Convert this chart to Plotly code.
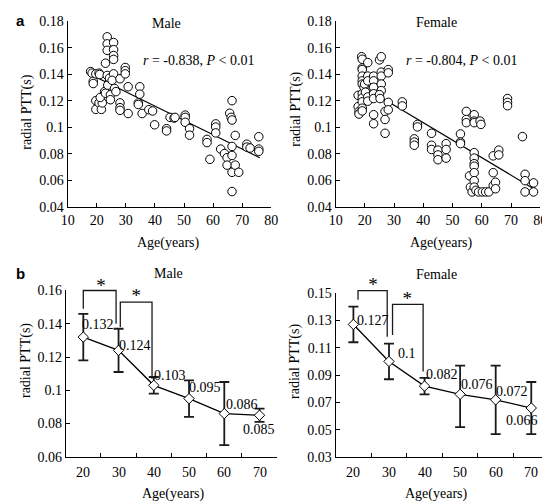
import plotly.graph_objects as go

# ---------------- data ----------------
male_age = [17.9, 18.4, 18.8, 18.8, 19.7, 19.7, 19.7, 20.8, 21.0, 20.8, 21.6, 21.9, 21.2,
            22.7, 23.0, 23.0, 23.6, 23.6, 23.6, 23.6, 24.2, 23.8, 24.7, 24.7, 24.4,
            25.8, 25.8, 25.8, 25.8, 25.8, 25.3, 26.1, 26.6, 28.0, 28.0, 28.0, 28.0,
            29.8, 29.8, 29.8, 30.8, 30.8, 34.8, 34.8, 34.3, 34.3, 35.6, 37.9, 39.2, 39.9,
            44.0, 44.0, 45.2, 46.6, 46.9, 50.4, 50.4, 50.4, 51.9, 51.9, 57.9, 57.9, 58.9,
            60.9, 60.9, 60.9, 62.6, 63.9, 64.8, 64.8, 65.7, 66.2, 66.5, 66.5, 66.5, 66.5,
            66.5, 66.5, 67.6, 67.6, 68.8, 71.6, 71.6, 72.7, 75.7, 75.7, 75.7]
male_ptt = [0.1421, 0.1409, 0.1348, 0.1331, 0.1404, 0.1202, 0.1136, 0.1409, 0.1399, 0.1185,
            0.1136, 0.1185, 0.1226, 0.1270, 0.1484, 0.1258, 0.1683, 0.1630, 0.1581, 0.1392,
            0.1336, 0.1319, 0.1246, 0.1209, 0.1372, 0.1640, 0.1586, 0.1542, 0.1513, 0.1404,
            0.1355, 0.1294, 0.1270, 0.1367, 0.1185, 0.1149, 0.1129, 0.1452, 0.1428, 0.1404,
            0.1307, 0.1105, 0.1307, 0.1251, 0.1185, 0.1173, 0.1105, 0.1134, 0.1124, 0.1020,
            0.0991, 0.0974, 0.1076, 0.1071, 0.1076, 0.1093, 0.1076, 0.1039, 0.0991, 0.0942,
            0.0910, 0.0886, 0.0760, 0.1027, 0.1003, 0.0959, 0.0837, 0.0803, 0.0772, 0.0716,
            0.1107, 0.1076, 0.1056, 0.1202, 0.0857, 0.0789, 0.0662, 0.0517, 0.0940, 0.0716,
            0.0662, 0.0874, 0.0852, 0.0845, 0.0930, 0.0837, 0.0820]
male_fit_age = [18.8, 76.0]
male_fit_ptt = [0.1390, 0.0772]

female_age = [17.7, 17.7, 18.0, 18.0, 18.9, 19.1, 19.1, 19.1, 19.1, 19.1, 19.1, 19.1, 19.1,
              19.1, 19.1, 19.1, 19.7, 19.9, 20.2, 21.0, 21.0, 21.0, 21.0, 21.0,
              23.0, 23.0, 23.0, 23.0, 23.0, 23.0, 23.0, 25.0, 25.6, 25.6, 25.6, 25.6, 25.6,
              25.0, 25.2, 26.9, 26.9, 26.9, 28.0, 28.0, 28.0, 28.0, 32.8, 32.8,
              36.9, 36.9, 36.9, 38.0, 38.0, 42.8, 42.8, 42.8, 45.0, 45.0, 45.0, 47.8, 47.8, 47.8,
              52.7, 52.7, 52.7, 54.7, 54.7, 54.7, 55.8, 56.1, 56.7, 57.4, 57.4, 57.4, 57.4,
              57.4, 57.4, 57.4, 57.4, 57.4, 57.4, 58.0, 59.4, 59.7, 58.9, 60.2, 61.3, 62.4,
              63.9, 63.9, 63.9, 64.7, 64.7, 65.8, 65.8, 68.8, 68.8, 68.8, 73.9, 74.8, 74.8,
              74.8, 77.7, 77.7]
female_ptt = [0.1242, 0.1157, 0.1121, 0.1101, 0.1533, 0.1514, 0.1448, 0.1436, 0.1387, 0.1351,
              0.1327, 0.1254, 0.1222, 0.1193, 0.1145, 0.1125, 0.1303, 0.1327, 0.1266, 0.1489,
              0.1387, 0.1351, 0.1230, 0.1198, 0.1387, 0.1351, 0.1303, 0.1254, 0.1218, 0.1096,
              0.1028, 0.1509, 0.1533, 0.1417, 0.1387, 0.1327, 0.1278, 0.1247, 0.1218, 0.1121,
              0.1060, 0.0956, 0.1436, 0.1412, 0.1189, 0.1133, 0.1193, 0.1162, 0.0914, 0.0890,
              0.0866, 0.1023, 0.1004, 0.0956, 0.0866, 0.0834, 0.0829, 0.0793, 0.0757, 0.0878,
              0.0834, 0.0769, 0.0951, 0.0890, 0.0878, 0.1121, 0.1060, 0.1036, 0.0635, 0.0550,
              0.0514, 0.1096, 0.1048, 0.1036, 0.0810, 0.0769, 0.0727, 0.0708, 0.0659, 0.0599,
              0.0550, 0.0526, 0.1048, 0.1023, 0.0514, 0.0514, 0.0514, 0.0514, 0.0786, 0.0659,
              0.0562, 0.0587, 0.0538, 0.0829, 0.0793, 0.1218, 0.1189, 0.1164, 0.0931, 0.0647,
              0.0599, 0.0514, 0.0582, 0.0514]
female_fit_age = [18.4, 78.0]
female_fit_ptt = [0.1320, 0.0535]

groups = [20, 30, 40, 50, 60, 70]
male_mean = [0.132, 0.124, 0.103, 0.095, 0.086, 0.085]
male_upper = [0.146, 0.137, 0.108, 0.106, 0.105, 0.089]
male_lower = [0.118, 0.111, 0.098, 0.084, 0.067, 0.081]
male_labels = ["0.132", "0.124", "0.103", "0.095", "0.086", "0.085"]
male_label_x = [24.1, 34.6, 44.5, 54.4, 65.1, 69.8]
male_label_y = [0.1397, 0.1272, 0.1088, 0.1015, 0.0915, 0.0764]

female_mean = [0.127, 0.100, 0.082, 0.076, 0.072, 0.066]
female_upper = [0.140, 0.113, 0.088, 0.097, 0.097, 0.085]
female_lower = [0.114, 0.087, 0.076, 0.052, 0.047, 0.047]
female_labels = ["0.127", "0.1", "0.082", "0.076", "0.072", "0.066"]
female_label_x = [25.5, 35.1, 44.9, 54.7, 64.5, 67.4]
female_label_y = [0.1299, 0.1056, 0.0905, 0.0831, 0.0784, 0.0572]

# significance brackets and stars
male_br1_x = [20.0, 20.0, 29.3, 29.3]
male_br1_y = [0.149, 0.160, 0.160, 0.140]
male_br2_x = [30.5, 30.5, 39.5, 39.5]
male_br2_y = [0.138, 0.153, 0.153, 0.107]
male_star_x = [25.0, 35.0]
male_star_y = [0.1622, 0.1557]
female_br1_x = [21.3, 21.3, 29.5, 29.5]
female_br1_y = [0.145, 0.1517, 0.1517, 0.118]
female_br2_x = [31.0, 31.0, 39.6, 39.6]
female_br2_y = [0.1193, 0.1417, 0.1417, 0.0926]
female_star_x = [25.5, 35.1]
female_star_y = [0.1545, 0.1444]

scatter_xticks = [10, 20, 30, 40, 50, 60, 70, 80]
scatter_yticks = [0.04, 0.06, 0.08, 0.1, 0.12, 0.14, 0.16, 0.18]
scatter_yticklabels = ["0.04", "0.06", "0.08", "0.1", "0.12", "0.14", "0.16", "0.18"]
male_b_yticks = [0.06, 0.08, 0.1, 0.12, 0.14, 0.16]
male_b_yticklabels = ["0.06", "0.08", "0.1", "0.12", "0.14", "0.16"]
female_b_yticks = [0.03, 0.05, 0.07, 0.09, 0.11, 0.13, 0.15]
female_b_yticklabels = ["0.03", "0.05", "0.07", "0.09", "0.11", "0.13", "0.15"]
b_xtick_marks = [25, 35, 45, 55, 65, 75]

# ---------------- figure ----------------
W, H = 550, 501
SERIF = "Liberation Serif"
INK = "#1a1a1a"

def px_x(p):
    return p / W

def px_y(p):
    return 1 - p / H

# bottom panels: pixel geometry
MB_BOT, MB_TOP, MB_RANGE = 455.5, 284.0, [0.06, 0.16]
FB_BOT, FB_TOP, FB_RANGE = 456.0, 286.5, [0.03, 0.15]
OVER_TOP = 262.0  # overlay panels extend upward so brackets/stars aren't clipped

def extended_range(bot, top, rng, new_top):
    per_px = (rng[1] - rng[0]) / (bot - top)
    return [rng[0], rng[1] + (top - new_top) * per_px]

fig = go.Figure()

circ = dict(symbol="circle", size=8.5, color="white", line=dict(color="black", width=1))

fig.add_trace(go.Scatter(x=male_fit_age, y=male_fit_ptt, mode="lines",
                         line=dict(color="black", width=1.2), xaxis="x", yaxis="y"))
fig.add_trace(go.Scatter(x=male_age, y=male_ptt, mode="markers", marker=circ,
                         xaxis="x", yaxis="y"))
fig.add_trace(go.Scatter(x=female_fit_age, y=female_fit_ptt, mode="lines",
                         line=dict(color="black", width=1.2), xaxis="x2", yaxis="y2"))
fig.add_trace(go.Scatter(x=female_age, y=female_ptt, mode="markers", marker=circ,
                         xaxis="x2", yaxis="y2"))

def err_trace(mean, upper, lower, xa, ya):
    return go.Scatter(
        x=groups, y=mean, mode="lines+markers", xaxis=xa, yaxis=ya, cliponaxis=False,
        line=dict(color="black", width=1.3),
        marker=dict(symbol="diamond", size=8, color="white", line=dict(color="black", width=1)),
        error_y=dict(type="data", symmetric=False,
                     array=[u - m for u, m in zip(upper, mean)],
                     arrayminus=[m - l for m, l in zip(mean, lower)],
                     color=INK, thickness=1.8, width=5))

fig.add_trace(err_trace(male_mean, male_upper, male_lower, "x3", "y3"))
fig.add_trace(err_trace(female_mean, female_upper, female_lower, "x4", "y4"))

# brackets + stars on invisible overlay subplots (x5/y5 male, x6/y6 female)
for bx, by in [(male_br1_x, male_br1_y), (male_br2_x, male_br2_y)]:
    fig.add_trace(go.Scatter(x=bx, y=by, mode="lines", line=dict(color=INK, width=1.3),
                             xaxis="x5", yaxis="y5"))
for bx, by in [(female_br1_x, female_br1_y), (female_br2_x, female_br2_y)]:
    fig.add_trace(go.Scatter(x=bx, y=by, mode="lines", line=dict(color=INK, width=1.3),
                             xaxis="x6", yaxis="y6"))
fig.add_trace(go.Scatter(x=male_star_x, y=male_star_y, mode="text", text=["*"] * 2,
                         textposition="middle center", cliponaxis=False,
                         textfont=dict(family=SERIF, size=19, color="black"),
                         xaxis="x5", yaxis="y5"))
fig.add_trace(go.Scatter(x=female_star_x, y=female_star_y, mode="text", text=["*"] * 2,
                         textposition="middle center", cliponaxis=False,
                         textfont=dict(family=SERIF, size=19, color="black"),
                         xaxis="x6", yaxis="y6"))

tickfont = dict(family=SERIF, size=14, color="black")

def ax(domain, rng, tickvals, ticktext=None, showlabels=True):
    d = dict(domain=domain, range=rng, showline=True, linecolor="black", linewidth=1,
             ticks="inside", ticklen=4, tickcolor="black", tickvals=tickvals,
             showgrid=False, zeroline=False, tickfont=tickfont, fixedrange=True,
             showticklabels=showlabels)
    if ticktext is not None:
        d["ticktext"] = ticktext
    return d

def hidden(domain, rng):
    return dict(domain=domain, range=rng, visible=False, showgrid=False, zeroline=False,
                fixedrange=True)

layout = dict(
    width=W, height=H, margin=dict(l=0, r=0, t=0, b=0),
    paper_bgcolor="white", plot_bgcolor="rgba(0,0,0,0)", showlegend=False,
    font=dict(family=SERIF, size=14, color="black"),
)

layout["xaxis"] = ax([px_x(54), px_x(263)], [10, 80], scatter_xticks)
layout["yaxis"] = ax([px_y(198), px_y(6.5)], [0.04, 0.18], scatter_yticks, scatter_yticklabels)
layout["xaxis"]["anchor"] = "y"
layout["yaxis"]["anchor"] = "x"

layout["xaxis2"] = ax([px_x(329), px_x(539)], [10, 80], scatter_xticks)
layout["yaxis2"] = ax([px_y(198), px_y(6.5)], [0.04, 0.18], scatter_yticks, scatter_yticklabels)
layout["xaxis2"]["anchor"] = "y2"
layout["yaxis2"]["anchor"] = "x2"

MB_X = [px_x(52), px_x(269)]
FB_X = [px_x(329), px_x(548)]

layout["xaxis3"] = ax(MB_X, [15, 75], b_xtick_marks, showlabels=False)
layout["yaxis3"] = ax([px_y(MB_BOT), px_y(MB_TOP)], MB_RANGE, male_b_yticks, male_b_yticklabels)
layout["xaxis3"]["anchor"] = "y3"
layout["yaxis3"]["anchor"] = "x3"

layout["xaxis4"] = ax(FB_X, [15, 75], b_xtick_marks, showlabels=False)
layout["yaxis4"] = ax([px_y(FB_BOT), px_y(FB_TOP)], FB_RANGE, female_b_yticks, female_b_yticklabels)
layout["xaxis4"]["anchor"] = "y4"
layout["yaxis4"]["anchor"] = "x4"

layout["xaxis5"] = hidden(MB_X, [15, 75])
layout["yaxis5"] = hidden([px_y(MB_BOT), px_y(OVER_TOP)],
                          extended_range(MB_BOT, MB_TOP, MB_RANGE, OVER_TOP))
layout["xaxis5"]["anchor"] = "y5"
layout["yaxis5"]["anchor"] = "x5"

layout["xaxis6"] = hidden(FB_X, [15, 75])
layout["yaxis6"] = hidden([px_y(FB_BOT), px_y(OVER_TOP)],
                          extended_range(FB_BOT, FB_TOP, FB_RANGE, OVER_TOP))
layout["xaxis6"]["anchor"] = "y6"
layout["yaxis6"]["anchor"] = "x6"

fig.update_layout(**layout)

ann = []
def pa(text, x, y, size=14, angle=0, family=SERIF, xanchor="center", yanchor="middle"):
    ann.append(dict(text=text, x=px_x(x), y=px_y(y), xref="paper", yref="paper",
                    showarrow=False, textangle=angle, xanchor=xanchor, yanchor=yanchor,
                    font=dict(family=family, size=size, color="black")))

# group tick labels for bottom panels (category labels)
for xa, ya in [("x3", "y3"), ("x4", "y4")]:
    for g in groups:
        ann.append(dict(text=str(g), x=g, y=0, xref=xa, yref=f"{ya} domain",
                        showarrow=False, yanchor="top", yshift=-6,
                        font=dict(family=SERIF, size=14, color="black")))

pa("Male", 155, 9, 14)
pa("Female", 432, 8, 14)
pa("Male", 157, 266, 14)
pa("Female", 432, 268, 14)
pa("<i>r</i> = -0.838, <i>P</i> &lt; 0.01", 188, 47, 14)
pa("<i>r</i> = -0.804, <i>P</i> &lt; 0.01", 458, 47, 14)
pa("radial PTT(s)", 12, 100, 14, angle=-90)
pa("radial PTT(s)", 288, 97, 14, angle=-90)
pa("radial PTT(s)", 12, 356, 14, angle=-90)
pa("radial PTT(s)", 288, 357, 14, angle=-90)
pa("Age(years)", 158, 235, 14)
pa("Age(years)", 438, 235, 14)
pa("Age(years)", 163, 494, 14)
pa("Age(years)", 432, 494, 14)
pa("<b>a</b>", 6, 6, 15, family="Liberation Sans")
pa("<b>b</b>", 6, 266, 15, family="Liberation Sans")

for labs, lx, ly, xa, ya in [(male_labels, male_label_x, male_label_y, "x3", "y3"),
                             (female_labels, female_label_x, female_label_y, "x4", "y4")]:
    for t, x, y in zip(labs, lx, ly):
        ann.append(dict(text=t, x=x, y=y, xref=xa, yref=ya, showarrow=False,
                        font=dict(family=SERIF, size=14, color="black")))

fig.update_layout(annotations=ann)
fig.write_html("out.html")
